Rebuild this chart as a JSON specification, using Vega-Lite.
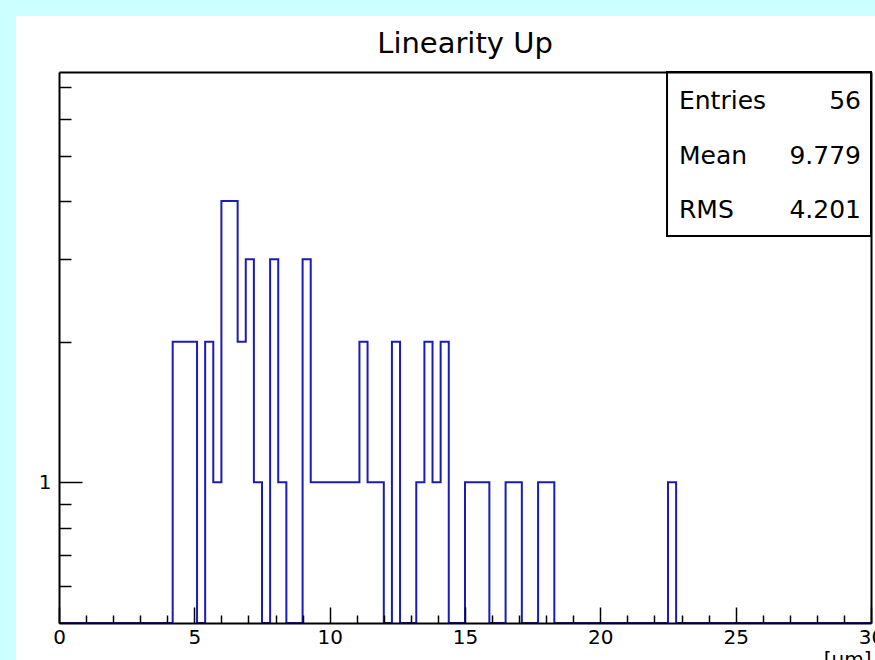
{
  "$schema": "https://vega.github.io/schema/vega-lite/v6.json",
  "width": 812,
  "height": 551,
  "autosize": {"type": "none"},
  "padding": {"left": 59, "top": 72, "right": 4, "bottom": 37},
  "background": "#ccffff",
  "config": {"view": {"stroke": null}, "font": "DejaVu Sans"},
  "title": {"text": "Linearity Up", "font": "DejaVu Sans", "fontSize": 29, "fontWeight": "normal", "color": "black", "anchor": "middle", "offset": -43, "zindex": 1},
  "layer": [
    {
      "data": {"values": [{}]},
      "mark": {"type": "rect", "fill": "white", "clip": false},
      "encoding": {
        "x": {"datum": -0.053, "type": "quantitative", "scale": {"domain": [0, 1], "nice": false, "zero": false},
              "axis": {"orient": "top", "labels": false, "ticks": false, "title": null, "grid": false, "domain": true, "domainColor": "black", "domainWidth": 2, "zindex": 1}},
        "x2": {"datum": 1.01},
        "y": {"datum": -0.1, "type": "quantitative", "scale": {"domain": [0, 1], "nice": false, "zero": false},
              "axis": {"orient": "right", "labels": false, "ticks": false, "title": null, "grid": false, "domain": true, "domainColor": "black", "domainWidth": 2, "zindex": 1}},
        "y2": {"datum": 1.1016}
      }
    },
    {
      "data": {"values": [
        {"x": 0, "n": 0}, {"x": 4.2, "n": 2}, {"x": 4.5, "n": 2}, {"x": 4.8, "n": 2}, {"x": 5.1, "n": 0},
        {"x": 5.4, "n": 2}, {"x": 5.7, "n": 1}, {"x": 6.0, "n": 4}, {"x": 6.3, "n": 4}, {"x": 6.6, "n": 2},
        {"x": 6.9, "n": 3}, {"x": 7.2, "n": 1}, {"x": 7.5, "n": 0}, {"x": 7.8, "n": 3}, {"x": 8.1, "n": 1},
        {"x": 8.4, "n": 0}, {"x": 8.7, "n": 0}, {"x": 9.0, "n": 3}, {"x": 9.3, "n": 1}, {"x": 9.6, "n": 1},
        {"x": 9.9, "n": 1}, {"x": 10.2, "n": 1}, {"x": 10.5, "n": 1}, {"x": 10.8, "n": 1}, {"x": 11.1, "n": 2},
        {"x": 11.4, "n": 1}, {"x": 11.7, "n": 1}, {"x": 12.0, "n": 0}, {"x": 12.3, "n": 2}, {"x": 12.6, "n": 0},
        {"x": 12.9, "n": 0}, {"x": 13.2, "n": 1}, {"x": 13.5, "n": 2}, {"x": 13.8, "n": 1}, {"x": 14.1, "n": 2},
        {"x": 14.4, "n": 0}, {"x": 14.7, "n": 0}, {"x": 15.0, "n": 1}, {"x": 15.3, "n": 1}, {"x": 15.6, "n": 1},
        {"x": 15.9, "n": 0}, {"x": 16.2, "n": 0}, {"x": 16.5, "n": 1}, {"x": 16.8, "n": 1}, {"x": 17.1, "n": 0},
        {"x": 17.4, "n": 0}, {"x": 17.7, "n": 1}, {"x": 18.0, "n": 1}, {"x": 18.3, "n": 0}, {"x": 22.5, "n": 1},
        {"x": 22.8, "n": 0}, {"x": 30, "n": 0}
      ]},
      "mark": {"type": "line", "interpolate": "step-after", "color": "#1c1cb4", "strokeWidth": 2, "invalid": "show"},
      "encoding": {
        "x": {"field": "x", "type": "quantitative", "scale": {"domain": [0, 30], "nice": false, "zero": false},
              "axis": {"values": [0,1,2,3,4,5,6,7,8,9,10,11,12,13,14,15,16,17,18,19,20,21,22,23,24,25,26,27,28,29,30],
                       "labelExpr": "datum.value % 5 === 0 ? datum.label : ''",
                       "tickSize": {"condition": {"test": "datum.value % 5 === 0", "value": -16}, "value": -8},
                       "tickColor": "black", "tickWidth": 1.5, "domainColor": "black", "domainWidth": 2,
                       "labelFont": "DejaVu Sans", "labelFontSize": 20, "labelColor": "black",
                       "labelPadding": {"condition": {"test": "datum.value % 5 === 0", "value": 20}, "value": 12},
                       "labelFlush": false, "labelOverlap": false,
                       "grid": false, "title": "[μm]", "titleFont": "DejaVu Sans", "titleFontSize": 20, "titleFontWeight": "normal", "titleColor": "black",
                       "titleAnchor": "end", "titleBaseline": "top", "titlePadding": 2, "zindex": 1}},
        "y": {"field": "n", "type": "quantitative", "scale": {"type": "log", "domain": [0.5, 7.55], "nice": false, "clamp": true},
              "axis": {"values": [0.6, 0.7, 0.8, 0.9, 1, 2, 3, 4, 5, 6, 7],
                       "labelExpr": "datum.value === 1 ? '1' : ''",
                       "tickSize": {"condition": {"test": "datum.value === 1", "value": -23}, "value": -12},
                       "tickColor": "black", "tickWidth": 1.5, "domainColor": "black", "domainWidth": 2,
                       "labelFont": "DejaVu Sans", "labelFontSize": 20, "labelColor": "black",
                       "labelPadding": {"condition": {"test": "datum.value === 1", "value": 31}, "value": 20},
                       "labelOverlap": false,
                       "grid": false, "title": null, "zindex": 1}}
      }
    },
    {
      "data": {"values": [
        {"label": "Entries", "value": "56"},
        {"label": "Mean", "value": "9.779"},
        {"label": "RMS", "value": "4.201"}
      ]},
      "layer": [
        {
          "data": {"values": [{}]},
          "mark": {"type": "rect", "fill": "white", "stroke": "black", "strokeWidth": 2, "clip": false},
          "encoding": {
            "x": {"datum": 0.7488, "type": "quantitative", "scale": {"domain": [0, 1], "nice": false, "zero": false}, "axis": null},
            "x2": {"datum": 1.0},
            "y": {"datum": 0.7024, "type": "quantitative", "scale": {"domain": [0, 1], "nice": false, "zero": false}, "axis": null},
            "y2": {"datum": 1.0}
          }
        },
        {
          "layer": [
            {
              "mark": {"type": "text", "align": "left", "baseline": "middle", "font": "DejaVu Sans", "fontSize": 25, "color": "black"},
              "encoding": {
                "x": {"datum": 0.7635, "type": "quantitative"},
                "y": {"field": "label", "type": "nominal", "scale": {"type": "point", "domain": ["Entries", "Mean", "RMS"], "range": [29, 138], "padding": 0}, "axis": null},
                "text": {"field": "label"}
              }
            },
            {
              "mark": {"type": "text", "align": "right", "baseline": "middle", "font": "DejaVu Sans", "fontSize": 25, "color": "black"},
              "encoding": {
                "x": {"datum": 0.9877, "type": "quantitative"},
                "y": {"field": "label", "type": "nominal", "axis": null},
                "text": {"field": "value"}
              }
            }
          ]
        }
      ],
      "resolve": {"scale": {"y": "independent"}}
    }
  ],
  "resolve": {"scale": {"x": "independent", "y": "independent"}, "axis": {"x": "independent", "y": "independent"}}
}
